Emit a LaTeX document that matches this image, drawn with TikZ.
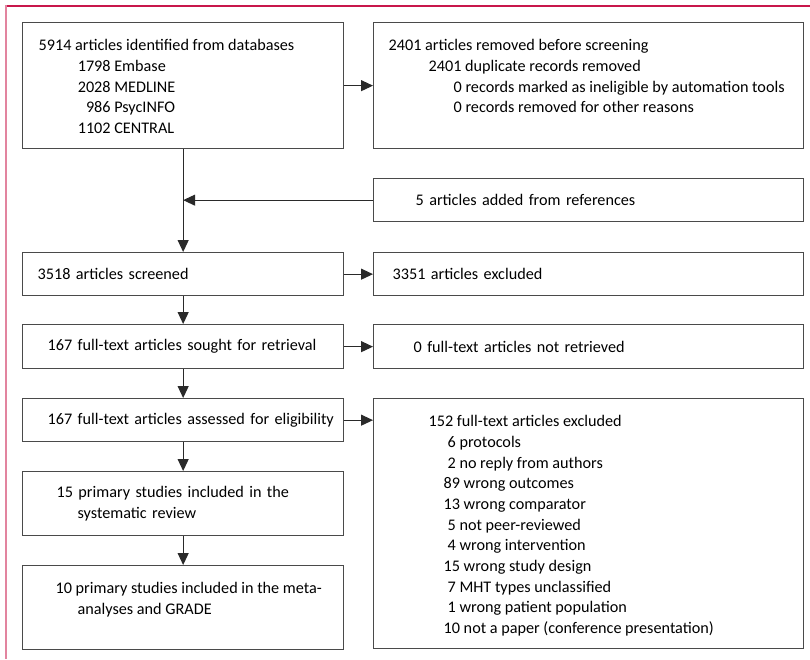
\documentclass[tikz,border=0pt]{standalone}
\usepackage{fontspec}
\setmainfont{Carlito}
\usetikzlibrary{arrows.meta}
\definecolor{topred}{HTML}{C8164B}
\definecolor{sidepink}{HTML}{E2849F}
\definecolor{boxline}{HTML}{4A4A4A}
\definecolor{arrline}{HTML}{2A2A2A}
\begin{document}
\begin{tikzpicture}[x=1pt,y=-1pt,>={Triangle[length=12pt,width=11pt]},
		font=\fontsize{16.2}{20.7}\selectfont,
		box/.style={draw=boxline,line width=1.3pt,anchor=north west,align=left,inner ysep=0pt},
		topbox/.style={draw=boxline,line width=1.3pt,anchor=north west,inner ysep=13.5pt},
		flow/.style={draw=arrline,line width=1.1pt,->}]
	\useasboundingbox (0,0) rectangle (810,659);
	% frame
	\draw[topred,line width=1.5pt] (5,6)--(810,6);
	\draw[sidepink,line width=2.5pt] (6,5)--(6,659);
	% left column
	\node[topbox,inner xsep=16pt] (ident) at (22,22) {\parbox[t][99pt][t]{289pt}{\strut 5914 articles identified from databases\\
		\makebox[72pt][r]{1798} Embase\\
		\makebox[72pt][r]{2028} MEDLINE\\
		\makebox[72pt][r]{986} PsycINFO\\
		\makebox[72pt][r]{1102} CENTRAL}};
	\node[box,minimum width=321pt,minimum height=43pt,inner xsep=15pt,text width=291pt] (screened) at (22,252) {3518 articles screened};
	\node[box,minimum width=321pt,minimum height=44pt,inner xsep=25pt,text width=271pt] (sought) at (22,324) {167 full-text articles sought for retrieval};
	\node[box,minimum width=321pt,minimum height=43pt,inner xsep=25pt,text width=271pt] (assessed) at (22,398) {\mbox{167 full-text articles assessed for eligibility}};
	\node[box,minimum width=321pt,minimum height=64pt,inner xsep=34pt,text width=253pt] (sysrev) at (22,471) {15 primary studies included in the\\\hspace*{21pt}systematic review};
	\node[topbox,inner xsep=33pt] (meta) at (22,565) {\parbox[t][57pt][t]{255pt}{\strut\mbox{10 primary studies included in the meta-}\\
		\hspace*{22pt}analyses and GRADE}};
	% right column
	\node[topbox,inner xsep=15pt] (removed) at (373,22) {\parbox[t][99pt][t]{400pt}{\strut 2401 articles removed before screening\\
		\hspace*{40pt}2401 duplicate records removed\\
		\hspace*{65pt}0 records marked as ineligible by automation tools\\
		\hspace*{65pt}0 records removed for other reasons}};
	\node[box,minimum width=430pt,minimum height=43pt,inner xsep=42pt,text width=346pt] (refs) at (373,178) {5 articles added from references};
	\node[box,minimum width=430pt,minimum height=43pt,inner xsep=19pt,text width=392pt] (excluded) at (373,252) {3351 articles excluded};
	\node[box,minimum width=430pt,minimum height=44pt,inner xsep=40pt,text width=350pt] (notret) at (373,324) {0 full-text articles not retrieved};
	\node[topbox,inner xsep=55pt] (ftexcl) at (373,398) {\parbox[t][223pt][t]{320pt}{\strut 152 full-text articles excluded\\
		\hspace*{19pt}6 protocols\\
		\hspace*{19pt}2 no reply from authors\\
		\hspace*{15pt}89 wrong outcomes\\
		\hspace*{15pt}13 wrong comparator\\
		\hspace*{19pt}5 not peer-reviewed\\
		\hspace*{19pt}4 wrong intervention\\
		\hspace*{15pt}15 wrong study design\\
		\hspace*{19pt}7 MHT types unclassified\\
		\hspace*{19pt}1 wrong patient population\\
		\hspace*{15pt}10 not a paper (conference presentation)}};
	% connectors
	\coordinate (join) at (ident.south |- refs.west);
	\draw[flow] (ident)--(screened);
	\draw[flow] (refs)--(join);
	\draw[flow] (ident)--(ident.east -| removed.west);
	\draw[flow] (screened)--(excluded);
	\draw[flow] (screened)--(sought);
	\draw[flow] (sought)--(notret);
	\draw[flow] (sought)--(assessed);
	\draw[flow] (assessed)--(assessed.east -| ftexcl.west);
	\draw[flow] (assessed)--(sysrev);
	\draw[flow] (sysrev)--(meta);
\end{tikzpicture}
\end{document}
